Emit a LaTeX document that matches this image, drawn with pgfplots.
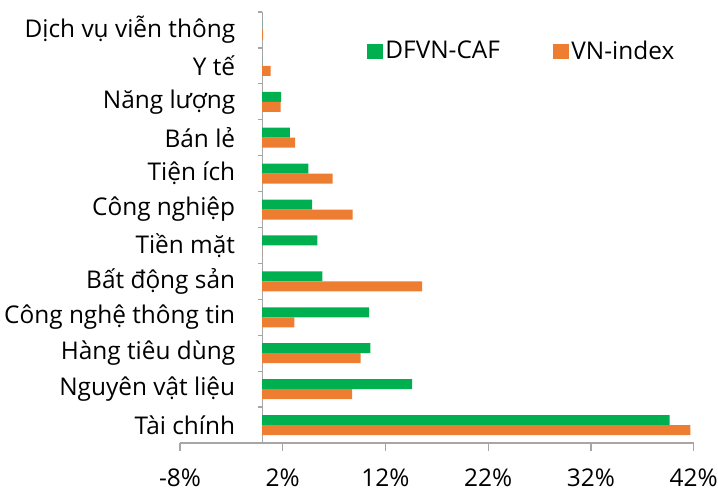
\documentclass[border=0pt]{standalone}
\usepackage{pgfplots}
\pgfplotsset{compat=1.18}
\usetikzlibrary{calc}
\usepackage{fontspec}
\setmainfont{Open Sans}
\definecolor{cgreen}{HTML}{00B050}
\definecolor{corange}{HTML}{ED7D31}
\definecolor{axgray}{HTML}{A6A6A6}
\newcommand{\chartfont}{\fontsize{18.3}{21}\selectfont}
\begin{document}
\chartfont
\begin{tikzpicture}
\begin{axis}[
  name=ax,
  scale only axis,
  width=385.3pt, height=323.25pt,
  xmin=-8, xmax=42, ymin=-0.5, ymax=11.5,
  axis x line=bottom,
  axis y line=center,
  axis line style={axgray, line width=0.9pt, -},
  tick align=outside,
  major tick length=6pt,
  minor tick length=3.5pt,
  tick style={axgray, line width=0.9pt},
  xtick={-8,2,12,22,32,42},
  xticklabel={\pgfmathprintnumber{\tick}\%},
  /pgf/number format/assume math mode=true,
  xticklabel style={font=\chartfont, yshift=-7pt},
  ytick={0,...,11},
  yticklabels={Tài chính, Nguyên vật liệu, Hàng tiêu dùng, Công nghệ thông tin, Bất động sản, Tiền mặt, Công nghiệp, Tiện ích, Bán lẻ, Năng lượng, Y tế, Dịch vụ viễn thông},
  yticklabel style={font=\chartfont, anchor=east, xshift=-8pt},
  minor ytick={-0.5,0.5,...,11.5},
  major y tick style={draw=none},
  legend style={at={(rel axis cs:0.364,0.908)}, anchor=west, draw=none, fill=none,
    legend columns=2, font=\chartfont, inner sep=0pt,
    /tikz/every even column/.append style={column sep=38pt}},
  legend cell align=left,
]
\addplot[xbar, bar width=7.5pt, bar shift=3.75pt, fill=cgreen, draw=none,
  legend image code/.code={\fill[cgreen] (0pt,-5.8pt) rectangle (11.6pt,5.8pt);}]
  coordinates {(39.66,0) (14.6,1) (10.54,2) (10.4,3) (5.85,4) (5.36,5) (4.87,6) (4.5,7) (2.7,8) (1.85,9) (0,10) (0,11)};
\addlegendentry{DFVN-CAF}
\addplot[xbar, bar width=7.5pt, bar shift=-3.75pt, fill=corange, draw=none,
  legend image code/.code={\fill[corange] (0pt,-5.8pt) rectangle (11.6pt,5.8pt);}]
  coordinates {(41.67,0) (8.76,1) (9.57,2) (3.12,3) (15.57,4) (0,5) (8.8,6) (6.85,7) (3.2,8) (1.79,9) (0.82,10) (0.1,11)};
\addlegendentry{VN-index}
\end{axis}
\pgfresetboundingbox
\path ($(ax.south west)+(-135pt,-36.75pt)$) rectangle ($(ax.north east)+(18.2pt,9pt)$);
\end{tikzpicture}
\end{document}
